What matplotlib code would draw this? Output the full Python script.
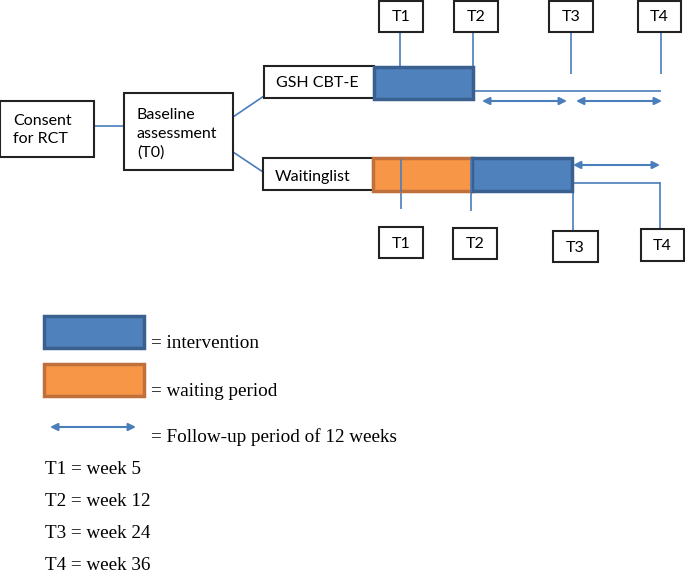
import matplotlib.pyplot as plt
from matplotlib.patches import Rectangle

# Data: labels and timepoints
flow_labels = ["Consent\nfor RCT", "Baseline\nassessment\n(T0)"]
arm_labels = ["GSH CBT-E", "Waitinglist"]
timepoints = ["T1", "T2", "T3", "T4"]
weeks = [5, 12, 24, 36]
legend_texts = ["= intervention", "= waiting period", "= Follow-up period of 12 weeks"]

BLUE = "#4F81BD"
BLUE_EDGE = "#3A6090"
ORANGE = "#F79646"
ORANGE_EDGE = "#C0703A"
LINE = "#4A7EBB"
SANS = "Lato"
SERIF = "Liberation Serif"

fig = plt.figure(figsize=(6.85, 5.74), dpi=100)
ax = fig.add_axes([0, 0, 1, 1])
ax.set_xlim(0, 685)
ax.set_ylim(574, 0)
ax.axis("off")


def box(x0, y0, x1, y1, fc="white", ec="#222222", lw=1.5, z=3):
    ax.add_patch(Rectangle((x0, y0), x1 - x0, y1 - y0, fc=fc, ec=ec, lw=lw, zorder=z))


def line(xs, ys, lw=1.2):
    ax.plot(xs, ys, color=LINE, lw=lw, zorder=2, solid_capstyle="butt")


def darrow(x0, x1, y):
    ax.annotate("", xy=(x1, y), xytext=(x0, y),
                arrowprops=dict(arrowstyle="<|-|>", color=LINE, lw=1.5,
                                mutation_scale=11, shrinkA=0, shrinkB=0), zorder=4)


# flow boxes
box(0, 101, 94, 157)
ax.text(13, 130, flow_labels[0], family=SANS, fontsize=11.5, va="center", ha="left",
        linespacing=1.45, zorder=5)
line([94, 124], [126, 126])
box(124, 93, 233, 170)
ax.text(137, 134, flow_labels[1], family=SANS, fontsize=11.5, va="center", ha="left",
        linespacing=1.45, zorder=5)
line([233, 264], [117, 96])
line([233, 263], [152, 172])

# arm boxes
box(264, 66, 374, 98)
ax.text(276, 83, arm_labels[0], family=SANS, fontsize=11.5, va="center", ha="left", zorder=5)
box(263, 158, 373, 190)
ax.text(275, 177, arm_labels[1], family=SANS, fontsize=11.5, va="center", ha="left", zorder=5)

# bars
box(374, 67, 473, 99, fc=BLUE, ec=BLUE_EDGE, lw=2.5, z=3)
box(373, 158, 472, 191, fc=ORANGE, ec=ORANGE_EDGE, lw=2.5, z=3)
box(472, 158, 572, 191, fc=BLUE, ec=BLUE_EDGE, lw=2.5, z=3)

# top timepoint boxes and ticks
top_boxes = [(379, 423), (454, 498), (549, 593), (638, 681)]
top_ticks = [(400, 69), (473, 76), (571, 74), (661, 74)]
for lab, (bx0, bx1), (tx, ty) in zip(timepoints, top_boxes, top_ticks):
    box(bx0, 1, bx1, 32)
    ax.text((bx0 + bx1) / 2, 17, lab, family=SANS, fontsize=11.5, ha="center", va="center", zorder=5)
    line([tx, tx], [32, ty])
line([473, 661], [91, 91])
darrow(482, 567, 101)
darrow(576, 662, 101)

# bottom timepoint boxes and ticks
bot_boxes = [(379, 423, 227, 258), (453, 497, 228, 259), (553, 598, 231, 262), (641, 684, 229, 261)]
bot_ticks = [(401, 160, 209), (471, 160, 211), (573, 160, 231), (660, 182, 229)]
for lab, (bx0, bx1, by0, by1), (tx, t0, t1) in zip(timepoints, bot_boxes, bot_ticks):
    box(bx0, by0, bx1, by1)
    ax.text((bx0 + bx1) / 2, (by0 + by1) / 2 + 1, lab, family=SANS, fontsize=11.5,
            ha="center", va="center", zorder=5)
    line([tx, tx], [t0, t1])
    if lab == "T1" or lab == "T2":
        ax.plot([tx, tx], [t0, 191], color=LINE, lw=1.2, zorder=4)
line([573, 660], [183, 183])
darrow(573, 660, 165)

# legend
box(44, 316, 144, 348, fc=BLUE, ec=BLUE_EDGE, lw=2.5)
ax.text(151, 344, legend_texts[0], family=SERIF, fontsize=13.8, va="center", ha="left")
box(44, 364, 144, 396, fc=ORANGE, ec=ORANGE_EDGE, lw=2.5)
ax.text(151, 391, legend_texts[1], family=SERIF, fontsize=13.8, va="center", ha="left")
darrow(50, 136, 427)
ax.text(151, 437, legend_texts[2], family=SERIF, fontsize=13.8, va="center", ha="left")

for i, (lab, wk) in enumerate(zip(timepoints, weeks)):
    ax.text(45, 470 + i * 32, f"{lab} = week {wk}", family=SERIF, fontsize=13.8,
            va="center", ha="left")

fig.savefig("out.png", dpi=100)
